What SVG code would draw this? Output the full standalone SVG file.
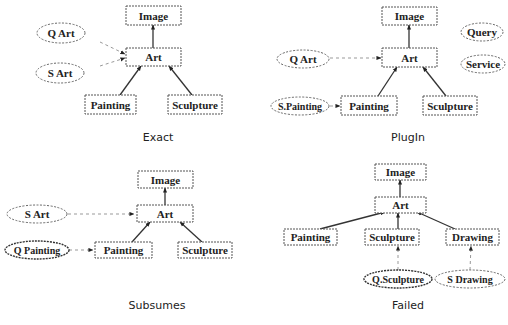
<svg xmlns="http://www.w3.org/2000/svg" width="508" height="325" viewBox="0 0 508 325">
<defs>
<marker id="ah" viewBox="0 0 6 6" refX="5.5" refY="3" markerWidth="5" markerHeight="5" orient="auto" markerUnits="userSpaceOnUse">
<path d="M0,0.5 L6,3 L0,5.5 Z" fill="#222"/>
</marker>
<style>
.box{fill:#fff;stroke:#555;stroke-width:1;stroke-dasharray:2 1}
.ell{fill:#fff;stroke:#666;stroke-width:1;stroke-dasharray:2 1.5}
.ellb{fill:#fff;stroke:#333;stroke-width:1.4;stroke-dasharray:2 1}
.t{font-family:"Liberation Serif","Times New Roman",serif;font-weight:bold;font-size:11px;fill:#222;text-anchor:middle;dominant-baseline:central}
.ts{font-size:10px}
.cap{font-family:"DejaVu Sans","Verdana",sans-serif;font-size:11px;fill:#222;text-anchor:middle;dominant-baseline:central}
.solid{stroke:#333;stroke-width:1.3;fill:none;marker-end:url(#ah)}
.dash{stroke:#999;stroke-width:1;stroke-dasharray:3 3;fill:none;marker-end:url(#ah)}
</style>
</defs>
<rect width="508" height="325" fill="#fff"/>

<g id="connectors">
<line class="solid" x1="153" y1="48" x2="153" y2="25"/>
<line class="solid" x1="120" y1="95" x2="141" y2="66"/>
<line class="solid" x1="192" y1="95" x2="169" y2="66"/>
<line class="dash" x1="100" y1="42" x2="125" y2="54"/>
<line class="dash" x1="100" y1="66" x2="125" y2="58"/>
<line class="solid" x1="409" y1="48" x2="409" y2="25"/>
<line class="solid" x1="378" y1="96" x2="397" y2="67"/>
<line class="solid" x1="446" y1="96" x2="423" y2="67"/>
<line class="dash" x1="330" y1="58" x2="381" y2="58"/>
<line class="dash" x1="330" y1="106" x2="340" y2="106"/>
<line class="solid" x1="165" y1="205" x2="165" y2="188"/>
<line class="solid" x1="132" y1="242" x2="150" y2="222"/>
<line class="solid" x1="202" y1="242" x2="180" y2="222"/>
<line class="dash" x1="68" y1="214" x2="134" y2="214"/>
<line class="dash" x1="69" y1="250" x2="93" y2="250"/>
<line class="solid" x1="400" y1="197" x2="400" y2="180"/>
<line class="solid" x1="320" y1="229" x2="385" y2="212"/>
<line class="solid" x1="398" y1="229" x2="398" y2="213"/>
<line class="solid" x1="455" y1="229" x2="417" y2="212"/>
<line class="dash" x1="398" y1="270" x2="398" y2="246"/>
<line class="dash" x1="470" y1="270" x2="471" y2="246"/>
</g>

<g id="p1-image"><rect class="box" x="126" y="6" width="55" height="19"/><text class="t" x="153.5" y="16">Image</text></g>
<g id="p1-qart"><ellipse class="ell" cx="61" cy="33" rx="24" ry="10"/><text class="t" x="61" y="33">Q Art</text></g>
<g id="p1-art"><rect class="box" x="126" y="48" width="55" height="18"/><text class="t" x="153.5" y="57">Art</text></g>
<g id="p1-sart"><ellipse class="ell" cx="60" cy="73" rx="24" ry="10"/><text class="t" x="60" y="73">S Art</text></g>
<g id="p1-painting"><rect class="box" x="85" y="95" width="51" height="19"/><text class="t" x="110.5" y="105">Painting</text></g>
<g id="p1-sculpture"><rect class="box" x="168" y="95" width="54" height="19"/><text class="t" x="195" y="105">Sculpture</text></g>
<text class="cap" x="158" y="137">Exact</text>

<g id="p2-image"><rect class="box" x="382" y="7" width="55" height="18"/><text class="t" x="409.5" y="16">Image</text></g>
<g id="p2-query"><ellipse class="ell" cx="482" cy="32" rx="21" ry="9"/><text class="t" x="482" y="32">Query</text></g>
<g id="p2-qart"><ellipse class="ell" cx="303" cy="59" rx="26" ry="9"/><text class="t" x="303" y="59">Q Art</text></g>
<g id="p2-art"><rect class="box" x="382" y="48" width="55" height="19"/><text class="t" x="409.5" y="58">Art</text></g>
<g id="p2-service"><ellipse class="ell" cx="483" cy="64" rx="22" ry="9"/><text class="t" x="483" y="64">Service</text></g>
<g id="p2-spainting"><ellipse class="ell" cx="300" cy="106" rx="29" ry="9"/><text class="t ts" x="300" y="106">S.Painting</text></g>
<g id="p2-painting"><rect class="box" x="341" y="96" width="56" height="19"/><text class="t" x="369" y="106">Painting</text></g>
<g id="p2-sculpture"><rect class="box" x="423" y="96" width="54" height="19"/><text class="t" x="450" y="106">Sculpture</text></g>
<text class="cap" x="408" y="137">PlugIn</text>

<g id="p3-image"><rect class="box" x="138" y="171" width="55" height="17"/><text class="t" x="165.5" y="180">Image</text></g>
<g id="p3-sart"><ellipse class="ell" cx="37" cy="214" rx="30" ry="9"/><text class="t" x="37" y="214">S Art</text></g>
<g id="p3-art"><rect class="box" x="137" y="205" width="56" height="17"/><text class="t" x="165" y="214">Art</text></g>
<g id="p3-qpainting"><ellipse class="ellb" cx="37" cy="250" rx="32" ry="9"/><text class="t ts" x="37" y="250">Q Painting</text></g>
<g id="p3-painting"><rect class="box" x="95" y="242" width="57" height="16"/><text class="t" x="123.5" y="250">Painting</text></g>
<g id="p3-sculpture"><rect class="box" x="178" y="242" width="54" height="16"/><text class="t" x="205" y="250">Sculpture</text></g>
<text class="cap" x="157" y="305">Subsumes</text>

<g id="p4-image"><rect class="box" x="375" y="164" width="51" height="16"/><text class="t" x="400.5" y="172">Image</text></g>
<g id="p4-art"><rect class="box" x="375" y="197" width="51" height="16"/><text class="t" x="400.5" y="205">Art</text></g>
<g id="p4-painting"><rect class="box" x="284" y="229" width="53" height="16"/><text class="t" x="310.5" y="237">Painting</text></g>
<g id="p4-sculpture"><rect class="box" x="365" y="229" width="54" height="16"/><text class="t" x="392" y="237">Sculpture</text></g>
<g id="p4-drawing"><rect class="box" x="446" y="229" width="53" height="16"/><text class="t" x="472.5" y="237">Drawing</text></g>
<g id="p4-qsculpture"><ellipse class="ellb" cx="398" cy="279" rx="34" ry="9"/><text class="t ts" x="398" y="279">Q.Sculpture</text></g>
<g id="p4-sdrawing"><ellipse class="ell" cx="470" cy="279" rx="35" ry="9"/><text class="t ts" x="470" y="279">S Drawing</text></g>
<text class="cap" x="408" y="305">Failed</text>
</svg>
